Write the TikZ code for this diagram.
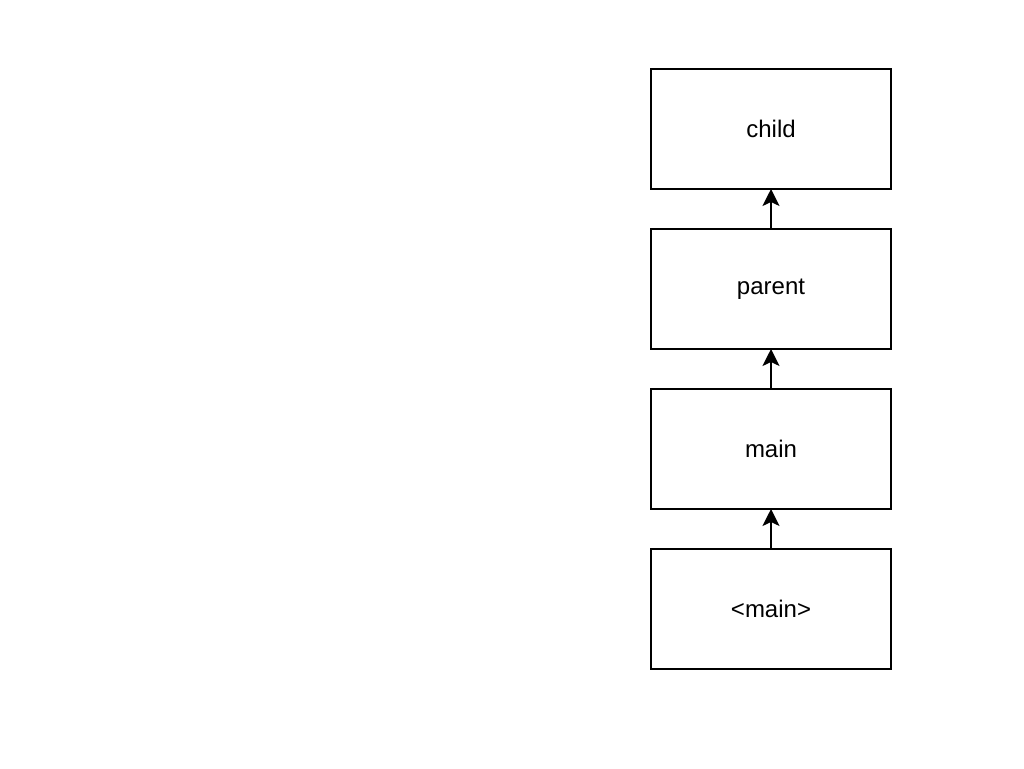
\documentclass[tikz,border=0pt]{standalone}
\usepackage{fontspec}
\setmainfont{Liberation Sans}
\usetikzlibrary{arrows.meta,positioning}

\begin{document}
\begin{tikzpicture}[x=1pt,y=1pt,
  frame/.style={draw,line width=2pt,minimum width=240pt,minimum height=120pt,inner sep=0pt,outer sep=0pt,
    font=\fontsize{24}{28}\selectfont},
  link/.style={line width=2pt,-{Stealth[length=17pt,width=17pt,inset=4pt]}}]
\useasboundingbox(0,0)rectangle(1024,768);
\node[frame](start)at(771,159){<main>};
\node[frame,above=40pt of start](main){main};
\node[frame,above=40pt of main](parent){parent};
\node[frame,above=40pt of parent](child){child};
\draw[link](start)--(main);
\draw[link](main)--(parent);
\draw[link](parent)--(child);
\end{tikzpicture}
\end{document}
